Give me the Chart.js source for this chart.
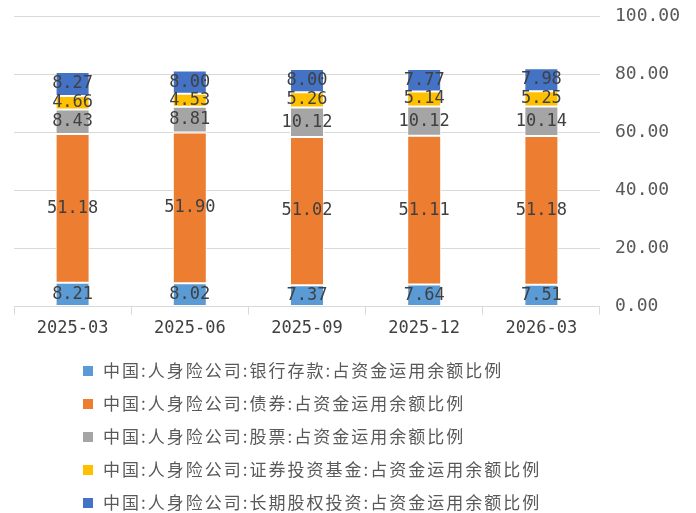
<!DOCTYPE html>
<html>
<head>
<meta charset="utf-8">
<script src="https://cdn.jsdelivr.net/npm/chart.js@4.4.1/dist/chart.umd.min.js"></script>
<style>
    html, body { margin: 0; padding: 0; background: #fff; }
    #wrap { position: relative; width: 696px; height: 513px; }
    #chart { display: block; }
    #legend {
        position: absolute; left: 83px; top: 358px;
        font-family: "Noto Sans CJK SC", sans-serif;
        font-size: 17px; color: #595959; letter-spacing: 2px;
    }
    #legend div { height: 33px; line-height: 24px; white-space: nowrap; }
    #legend span.box {
        display: inline-block; width: 10px; height: 10px;
        margin-right: 10px; vertical-align: 1px;
    }
</style>
</head>
<body>
<div id="wrap">
    <canvas id="chart" width="696" height="513"></canvas>
    <div id="legend"></div>
</div>
<script>
const categories = ['2025-03', '2025-06', '2025-09', '2025-12', '2026-03'];
const bankDeposits = [8.21, 8.02, 7.37, 7.64, 7.51];
const bonds = [51.18, 51.90, 51.02, 51.11, 51.18];
const stocks = [8.43, 8.81, 10.12, 10.12, 10.14];
const funds = [4.66, 4.53, 5.26, 5.14, 5.25];
const equity = [8.27, 8.00, 8.00, 7.77, 7.98];
const seriesNames = [
    '中国:人身险公司:银行存款:占资金运用余额比例',
    '中国:人身险公司:债券:占资金运用余额比例',
    '中国:人身险公司:股票:占资金运用余额比例',
    '中国:人身险公司:证券投资基金:占资金运用余额比例',
    '中国:人身险公司:长期股权投资:占资金运用余额比例'
];
const yTicks = [0, 20, 40, 60, 80, 100];

const colors = ['#5B9BD5', '#ED7D31', '#A5A5A5', '#FFC000', '#4472C4'];
const seriesData = [bankDeposits, bonds, stocks, funds, equity];

// 数值标签
const valueLabels = {
    id: 'valueLabels',
    afterDatasetsDraw(chart) {
        const ctx = chart.ctx;
        ctx.save();
        ctx.font = '17px "DejaVu Sans Mono", monospace';
        ctx.fillStyle = '#404040';
        ctx.textAlign = 'center';
        ctx.textBaseline = 'middle';
        chart.data.datasets.forEach((ds, i) => {
            chart.getDatasetMeta(i).data.forEach((bar, j) => {
                const y = (bar.y + bar.base) / 2;
                ctx.fillText(ds.data[j].toFixed(2), bar.x, y);
            });
        });
        ctx.restore();
    }
};

const ctx = document.getElementById('chart').getContext('2d');
new Chart(ctx, {
    type: 'bar',
    data: {
        labels: categories,
        datasets: seriesData.map((d, i) => ({
            label: seriesNames[i],
            data: d,
            backgroundColor: colors[i],
            borderColor: '#ffffff',
            borderWidth: 1,
            borderSkipped: false,
            categoryPercentage: 1,
            barPercentage: 0.29
        }))
    },
    options: {
        responsive: false,
        animation: false,
        layout: { padding: { left: 14, top: 16, right: 1, bottom: 170 } },
        plugins: {
            legend: { display: false },
            tooltip: { enabled: false }
        },
        scales: {
            x: {
                stacked: true,
                offset: true,
                grid: {
                    offset: true,
                    drawOnChartArea: false,
                    color: '#d9d9d9',
                    tickLength: 8
                },
                border: { color: '#d9d9d9' },
                ticks: {
                    color: '#404040',
                    padding: 4,
                    font: { family: '"DejaVu Sans Mono", monospace', size: 17 }
                }
            },
            y: {
                stacked: true,
                position: 'right',
                min: 0,
                max: 100,
                afterBuildTicks(axis) {
                    axis.ticks = yTicks.map(v => ({ value: v }));
                },
                afterFit(axis) {
                    axis.paddingTop = 0;
                    axis.paddingBottom = 0;
                },
                grid: { color: '#d9d9d9', drawTicks: false },
                border: { display: false },
                ticks: {
                    color: '#595959',
                    padding: 15,
                    font: { family: '"DejaVu Sans Mono", monospace', size: 18 },
                    callback: v => v.toFixed(2)
                }
            }
        }
    },
    plugins: [valueLabels]
});

const legend = document.getElementById('legend');
seriesNames.forEach((name, i) => {
    const row = document.createElement('div');
    const box = document.createElement('span');
    box.className = 'box';
    box.style.background = colors[i];
    row.appendChild(box);
    row.appendChild(document.createTextNode(name));
    legend.appendChild(row);
});
</script>
</body>
</html>
